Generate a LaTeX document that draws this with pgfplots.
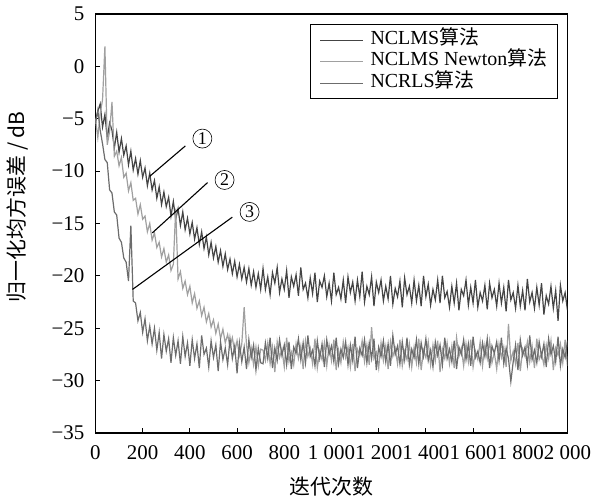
\documentclass[border=0pt]{standalone}
\usepackage{fontspec}
\setmainfont{Liberation Serif}
\newfontfamily\cjk{Noto Sans CJK SC}
\usepackage{pgfplots}
\pgfplotsset{compat=1.18}
\usepackage{pgfplotstable}
\definecolor{cA}{HTML}{444444}
\definecolor{cB}{HTML}{A0A0A0}
\definecolor{cC}{HTML}{6C6C6C}
\pgfplotstableread{
x a b c
0 -5.2 -5.0 -5.5
10 -4.3 -6.8 -4.2
20 -3.6 -4.5 -6.1
30 -5.8 -3.2 -7.4
40 -4.6 1.9 -8.9
50 -6.9 -7.5 -9.2
60 -5.4 -6.2 -11.8
70 -6.1 -3.4 -12.1
80 -7.8 -8.6 -13.9
90 -6.3 -8.1 -14.2
100 -8.2 -9.5 -16.4
110 -6.9 -8.7 -16.8
120 -8.5 -10.6 -18.3
130 -7.6 -10.2 -18.7
140 -9.4 -11.9 -20.5
150 -8.1 -11.1 -15.2
160 -9.9 -12.8 -22.4
170 -8.8 -12.6 -22.6
180 -10.3 -14.1 -24.3
190 -9.0 -13.2 -23.5
200 -10.6 -14.6 -25.4
210 -9.7 -14.3 -24.1
220 -11.4 -15.8 -26.2
230 -10.2 -15.0 -24.8
240 -11.8 -16.6 -26.5
250 -10.9 -15.9 -25.0
260 -12.6 -17.3 -27.1
270 -11.5 -16.8 -25.4
280 -13.2 -18.2 -27.9
290 -12.0 -17.4 -25.6
300 -13.4 -18.7 -27.2
310 -12.5 -18.0 -26.0
320 -14.3 -19.5 -28.3
330 -12.9 -18.9 -25.9
340 -14.6 -13.6 -27.6
350 -13.6 -20.3 -26.2
360 -15.2 -19.6 -28.4
370 -13.9 -21.2 -25.8
380 -15.6 -20.5 -27.7
390 -14.5 -21.8 -26.4
400 -16.0 -21.0 -28.6
410 -14.9 -22.6 -26.1
420 -16.5 -21.7 -27.9
430 -15.4 -23.1 -26.5
440 -17.0 -22.4 -28.8
450 -15.8 -23.8 -25.7
460 -17.4 -23.0 -27.5
470 -16.3 -24.4 -26.9
480 -18.0 -23.6 -28.7
490 -16.8 -24.9 -26.2
500 -18.3 -24.2 -27.8
510 -17.2 -25.5 -26.6
520 -18.7 -24.6 -29.1
530 -17.6 -26.0 -26.3
540 -19.1 -25.1 -28.0
550 -17.9 -26.4 -26.9
560 -19.4 -25.6 -28.5
570 -18.4 -26.8 -26.0
580 -19.8 -25.9 -27.9
590 -18.6 -27.3 -26.7
600 -20.1 -26.2 -29.3
610 -18.9 -27.6 -26.4
620 -20.3 -26.5 -28.2
630 -19.2 -23.0 -26.8
640 -20.6 -26.6 -28.9
650 -19.3 -28.3 -26.1
660 -20.9 -26.9 -27.8
670 -19.6 -28.5 -26.6
680 -21.1 -26.8 -29.0
690 -19.8 -28.6 -26.9
700 -21.3 -27.0 -28.3
710 -19.3 -27.1 -28.4
720 -21.3 -28.1 -26.4
730 -20.1 -26.4 -27.9
740 -21.8 -28.4 -25.9
750 -19.7 -26.8 -28.8
760 -20.7 -29.2 -26.9
770 -19.2 -26.3 -28.1
780 -21.6 -27.8 -26.1
790 -20.3 -27.0 -27.6
800 -21.3 -28.7 -26.6
810 -19.5 -25.9 -28.5
820 -22.1 -28.2 -26.3
830 -20.1 -27.3 -28.9
840 -21.0 -28.5 -26.8
850 -19.9 -26.5 -27.4
860 -21.9 -27.9 -26.0
870 -19.2 -26.7 -28.0
880 -21.3 -28.9 -26.4
890 -20.7 -26.2 -28.3
900 -22.1 -27.7 -25.7
910 -20.2 -26.9 -27.7
920 -21.7 -28.4 -27.1
930 -19.7 -26.0 -28.6
940 -22.5 -28.8 -26.2
950 -20.5 -27.2 -27.9
960 -21.1 -28.0 -26.5
970 -20.0 -26.4 -28.7
980 -22.0 -28.6 -26.1
990 -20.7 -26.6 -27.5
1000 -22.4 -28.1 -26.7
1010 -19.7 -26.1 -28.2
1020 -21.8 -29.0 -25.9
1030 -21.1 -27.1 -28.4
1040 -22.2 -28.3 -27.0
1050 -20.4 -26.3 -27.8
1060 -22.6 -27.8 -26.3
1070 -20.1 -26.8 -28.5
1080 -21.6 -28.7 -26.6
1090 -20.6 -26.5 -28.1
1100 -22.4 -29.1 -25.8
1110 -20.4 -27.0 -28.8
1120 -22.0 -27.6 -26.9
1130 -19.6 -26.2 -27.6
1140 -22.5 -28.2 -26.1
1150 -21.0 -26.6 -28.3
1160 -21.8 -28.5 -26.4
1170 -20.1 -24.9 -27.9
1180 -22.9 -27.9 -26.0
1190 -20.6 -27.3 -29.0
1200 -21.6 -28.8 -26.8
1210 -20.4 -26.4 -27.7
1220 -22.4 -28.1 -26.2
1230 -21.0 -26.7 -28.2
1240 -22.2 -28.9 -26.5
1250 -20.0 -26.3 -28.6
1260 -22.7 -27.7 -25.7
1270 -21.2 -26.9 -27.5
1280 -22.0 -28.4 -26.7
1290 -20.5 -26.1 -28.4
1300 -23.0 -28.6 -26.3
1310 -20.2 -27.2 -28.0
1320 -21.8 -28.0 -25.9
1330 -21.0 -26.5 -28.5
1340 -22.6 -28.7 -27.0
1350 -20.4 -26.8 -27.8
1360 -22.4 -28.3 -26.1
1370 -20.9 -26.0 -28.4
1380 -22.9 -29.0 -26.4
1390 -20.0 -27.1 -27.7
1400 -22.0 -27.8 -26.0
1410 -20.8 -26.3 -28.1
1420 -22.8 -28.5 -27.1
1430 -21.3 -26.6 -28.7
1440 -22.3 -28.1 -26.3
1450 -20.4 -26.2 -27.6
1460 -22.6 -29.2 -26.6
1470 -20.0 -27.0 -28.5
1480 -22.1 -27.9 -25.9
1490 -21.5 -26.4 -27.9
1500 -23.0 -28.4 -27.0
1510 -21.0 -26.7 -28.2
1520 -22.6 -28.8 -26.2
1530 -20.7 -25.9 -28.9
1540 -23.3 -27.7 -26.8
1550 -21.3 -26.9 -27.5
1560 -21.9 -28.6 -26.1
1570 -20.4 -26.5 -28.0
1580 -22.8 -28.2 -26.5
1590 -21.1 -26.1 -28.6
1600 -22.6 -28.7 -25.8
1610 -20.4 -27.2 -27.8
1620 -23.0 -28.0 -27.2
1630 -21.6 -26.3 -28.3
1640 -22.4 -28.6 -26.4
1650 -20.9 -26.6 -27.7
1660 -23.2 -27.9 -26.0
1670 -20.7 -26.2 -28.8
1680 -22.1 -28.3 -26.7
1690 -21.3 -27.3 -27.4
1700 -22.9 -28.9 -26.3
1710 -20.7 -26.5 -28.1
1720 -22.6 -27.8 -25.9
1730 -21.1 -26.8 -28.4
1740 -23.4 -28.7 -26.9
1750 -20.4 -24.6 -27.9
1760 -22.3 -28.1 -30.1
1770 -21.6 -27.2 -28.2
1780 -23.1 -28.4 -26.6
1790 -20.9 -26.4 -29.0
1800 -22.9 -29.1 -26.1
1810 -21.4 -27.0 -27.6
1820 -23.3 -27.7 -26.8
1830 -20.3 -26.3 -28.5
1840 -22.5 -28.2 -25.7
1850 -21.6 -26.7 -28.0
1860 -23.1 -28.8 -27.1
1870 -21.1 -26.0 -28.3
1880 -22.8 -28.0 -26.3
1890 -20.7 -27.4 -27.7
1900 -23.7 -28.5 -26.5
1910 -21.9 -26.6 -28.7
1920 -22.7 -27.9 -26.0
1930 -21.0 -26.2 -27.5
1940 -23.1 -29.0 -26.7
1950 -21.4 -26.9 -28.2
1960 -24.3 -27.6 -25.8
1970 -20.9 -26.5 -28.6
1980 -22.4 -28.3 -27.0
1990 -21.6 -26.1 -27.8
2000 -23.3 -28.6 -26.2
}\data
\begin{document}
\fontsize{21}{24}\selectfont
\begin{tikzpicture}
\begin{axis}[
  scale only axis,
  width=472bp, height=419bp,
  xmin=0, xmax=2000, ymin=-35, ymax=5,
  xtick={0,200,...,2000},
  xticklabels={0,200,400,600,800,1 000,1 200,1 400,1 600,1 800,2 000},
  ytick={-35,-30,...,5},
  yticklabels={−35,−30,−25,−20,−15,−10,−5,0,5},
  tick align=inside,
  xtick pos=left, ytick pos=left,
  major tick length=5bp,
  axis line style={line width=1.3bp, black},
  tick style={line width=1bp, black},
  ticklabel style={font=\fontsize{21}{24}\selectfont},
  xticklabel style={yshift=-5bp},
  yticklabel style={xshift=-4bp},
  xlabel={\cjk 迭代次数},
  ylabel={\cjk 归一化均方误差 / dB},
  label style={font=\fontsize{21}{24}\selectfont},
  every axis x label/.append style={at={(ticklabel cs:0.5,4bp)}},
  every axis y label/.append style={at={(ticklabel cs:0.54,9bp)}},
  legend cell align=left,
  legend style={at={(0.979,0.976)}, anchor=north east, draw=black, line width=1bp,
    inner xsep=9bp, inner ysep=5bp, row sep=0pt, column sep=6bp,
    font=\fontsize{20}{23}\selectfont,
    nodes={inner sep=1bp, text height=14bp, text depth=5.5bp}},
  legend image code/.code={\draw[#1, line width=1bp] (0bp,0bp) -- (43bp,0bp);},
]
\addplot[color=cA, line width=1.2bp] table[x=x, y=a]{\data};
\addlegendentry{NCLMS{\cjk 算法}}
\addplot[color=cB, line width=1.2bp] table[x=x, y=b]{\data};
\addlegendentry{NCLMS Newton{\cjk 算法}}
\addplot[color=cC, line width=1.2bp] table[x=x, y=c]{\data};
\addlegendentry{NCRLS{\cjk 算法}}
\draw[line width=1.1bp] (axis cs:230,-10.5) -- (axis cs:381,-7.6);
\draw[line width=1.1bp] (axis cs:241,-15.9) -- (axis cs:475,-11.1);
\draw[line width=1.1bp] (axis cs:157,-21.3) -- (axis cs:580,-14.4);
\node[draw, circle, inner sep=0pt, minimum size=19bp, line width=0.6bp, font=\fontsize{18}{18}\selectfont] at (axis cs:453,-6.9) {1};
\node[draw, circle, inner sep=0pt, minimum size=19bp, line width=0.6bp, font=\fontsize{18}{18}\selectfont] at (axis cs:547,-10.85) {2};
\node[draw, circle, inner sep=0pt, minimum size=19bp, line width=0.6bp, font=\fontsize{18}{18}\selectfont] at (axis cs:653,-13.9) {3};
\end{axis}
\end{tikzpicture}
\end{document}
